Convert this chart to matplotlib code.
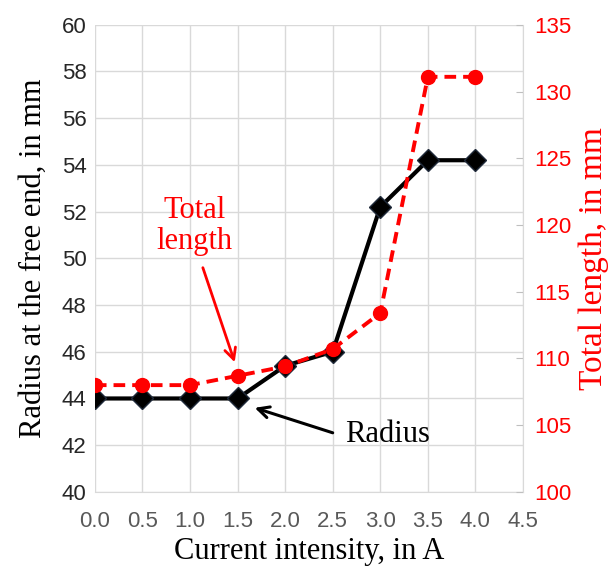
import numpy as np
import matplotlib.pyplot as plt

current = [0.0, 0.5, 1.0, 1.5, 2.0, 2.5, 3.0, 3.5, 4.0]
radius = [44.0, 44.0, 44.0, 44.0, 45.4, 46.0, 52.2, 54.2, 54.2]
total_length = [108.0, 108.0, 108.0, 108.7, 109.4, 110.7, 113.4, 131.1, 131.1]

serif = ["Liberation Serif", "DejaVu Serif"]
sans = ["Liberation Sans", "DejaVu Sans"]

fig = plt.figure(figsize=(6.16, 5.76), dpi=100)
ax = fig.add_axes([0.154, 0.146, 0.695, 0.811])
ax2 = ax.twinx()

ax.set_xlim(0, 4.5)
ax.set_ylim(40, 60)
ax.set_xticks(np.arange(0, 4.51, 0.5))
ax.set_yticks(np.arange(40, 60.1, 2))
ax.grid(True, color="#d9d9d9", linewidth=1)
ax.set_axisbelow(True)
for s in ["top", "left", "right"]:
    ax.spines[s].set_visible(False)
ax.spines["bottom"].set_color("#d9d9d9")
ax.tick_params(axis="y", length=0, pad=6)
ax.tick_params(axis="x", length=0, pad=14)
ax.set_xticklabels([f"{v:.1f}" for v in ax.get_xticks()], family=sans, fontsize=16, color="#595959")
ax.set_yticklabels([f"{int(v)}" for v in ax.get_yticks()], family=sans, fontsize=16, color="#262626")

ax.plot(current, radius, color="black", linewidth=3, marker="D", markersize=11,
        markeredgecolor="#1f2a3a", zorder=3)

ax2.set_ylim(100, 135)
ax2.set_yticks(np.arange(100, 135.1, 5))
ax2.plot(current, total_length, color="red", linewidth=2.8, linestyle=(0, (3, 1.8)),
         marker="o", markersize=10, zorder=3)
for s in ["top", "left", "bottom"]:
    ax2.spines[s].set_visible(False)
ax2.spines["right"].set_color("#d9d9d9")
ax2.tick_params(axis="y", direction="in", length=5, color="#bfbfbf", pad=8)
ax2.set_yticklabels([f"{int(v)}" for v in ax2.get_yticks()], family=sans, fontsize=16, color="red")

ax.set_xlabel("Current intensity, in A", family=serif, fontsize=22, labelpad=3)
ax.set_ylabel("Radius at the free end, in mm", family=serif, fontsize=22, labelpad=10)
ax2.set_ylabel("Total length, in mm", family=serif, fontsize=24, color="red", labelpad=5)

ax.text(1.05, 51.4, "Total\nlength", ha="center", va="center", fontsize=22,
        family=serif, color="red", linespacing=1.1)
ax.annotate("", xy=(1.47, 45.55), xytext=(1.135, 49.6),
            arrowprops=dict(arrowstyle="->", color="red", lw=2, mutation_scale=20,
                            shrinkA=0, shrinkB=0))
ax.text(2.63, 42.44, "Radius", ha="left", va="center", fontsize=22,
        family=serif, color="black")
ax.annotate("", xy=(1.68, 43.6), xytext=(2.5, 42.53),
            arrowprops=dict(arrowstyle="->", color="black", lw=2.2, mutation_scale=20,
                            shrinkA=0, shrinkB=0))

fig.savefig("out.png", dpi=100)
